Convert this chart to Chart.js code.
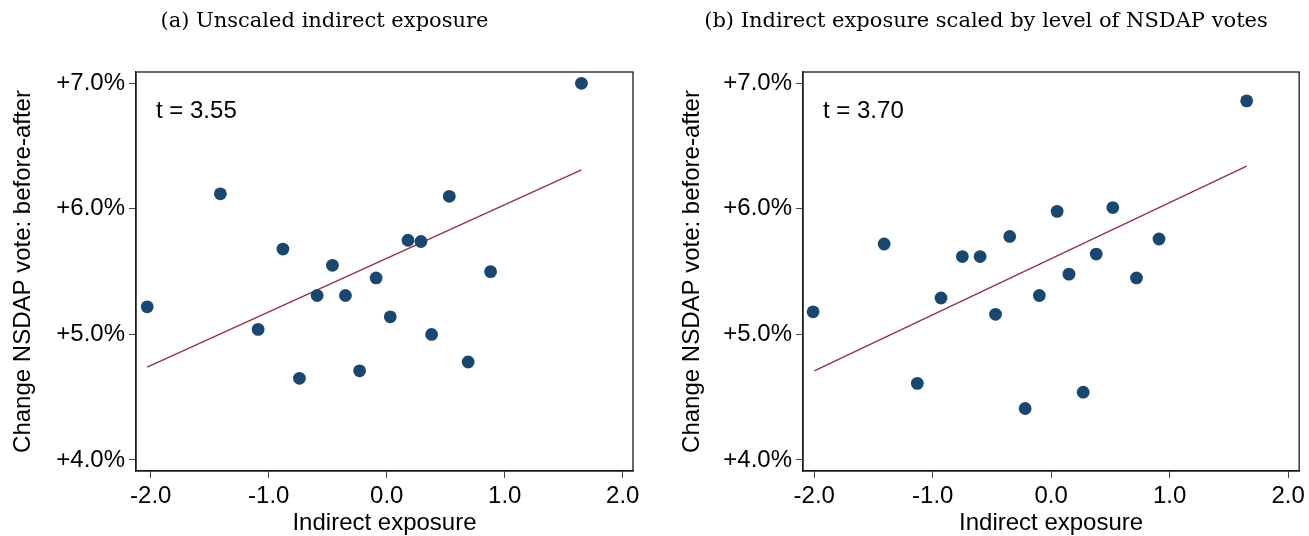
<!DOCTYPE html>
<html>
<head>
<meta charset="utf-8">
<script src="https://cdn.jsdelivr.net/npm/chart.js@4.4.1/dist/chart.umd.min.js"></script>
<style>
body { margin: 0; background: #fff; }
#wrap { position: relative; width: 1309px; height: 536px; }
canvas { position: absolute; top: 0; }
#ca { left: 0; }
#cb { left: 669px; }
</style>
</head>
<body>
<div id="wrap">
  <canvas id="ca" width="655" height="536"></canvas>
  <canvas id="cb" width="640" height="536"></canvas>
</div>
<script>
// panel titles and annotations
var titles = ['(a) Unscaled indirect exposure', '(b) Indirect exposure scaled by level of NSDAP votes'];
var tStats = ['t = 3.55', 't = 3.70'];
var xTitle = 'Indirect exposure';
var yTitle = 'Change NSDAP vote: before-after';
var xTicks = [-2, -1, 0, 1, 2];
var yTicks = [4, 5, 6, 7];

// (a) unscaled
var xA = [-2.03, -1.41, -1.09, -0.88, -0.74, -0.59, -0.46, -0.35, -0.23, -0.09, 0.03, 0.18, 0.29, 0.38, 0.53, 0.69, 0.88, 1.65];
var yA = [5.22, 6.12, 5.04, 5.68, 4.65, 5.31, 5.55, 5.31, 4.71, 5.45, 5.14, 5.75, 5.74, 5.00, 6.10, 4.78, 5.50, 7.00];
var fitXA = [-2.03, 1.65];
var fitYA = [4.74, 6.31];

// (b) scaled by NSDAP level
var xB = [-2.01, -1.41, -1.13, -0.93, -0.75, -0.60, -0.47, -0.35, -0.22, -0.10, 0.05, 0.15, 0.27, 0.38, 0.52, 0.72, 0.91, 1.65];
var yB = [5.18, 5.72, 4.61, 5.29, 5.62, 5.62, 5.16, 5.78, 4.41, 5.31, 5.98, 5.48, 4.54, 5.64, 6.01, 5.45, 5.76, 6.86];
var fitXB = [-2.00, 1.65];
var fitYB = [4.71, 6.34];

Chart.defaults.font.family = '"Liberation Sans", Arial, Helvetica, sans-serif';
Chart.defaults.color = '#000';

function pts(xs, ys) {
  var out = [];
  for (var i = 0; i < xs.length; i++) out.push({ x: xs[i], y: ys[i] });
  return out;
}

// frame, panel title and t-stat
var panelText = {
  id: 'panelText',
  beforeDatasetsDraw: function (chart) {
    var a = chart.chartArea, ctx = chart.ctx;
    ctx.save();
    ctx.strokeStyle = '#1a1a1a';
    ctx.lineWidth = 1.3;
    ctx.strokeRect(a.left, a.top, a.right - a.left, a.bottom - a.top);
    ctx.restore();
  },
  afterDraw: function (chart, args, opts) {
    var a = chart.chartArea, ctx = chart.ctx;
    ctx.save();
    ctx.fillStyle = '#000';
    ctx.font = '21px "DejaVu Serif", serif';
    ctx.textAlign = 'center';
    ctx.textBaseline = 'middle';
    ctx.fillText(opts.title, chart.width / 2 - 3, 22);
    ctx.font = '24px "Liberation Sans", Arial, sans-serif';
    ctx.textAlign = 'left';
    ctx.textBaseline = 'alphabetic';
    ctx.fillText(opts.tstat, a.left + 20, a.top + 46);
    ctx.restore();
  }
};

function makeChart(id, xs, ys, fx, fy, title, tstat, areaLeft, padRight, xMin, xMax) {
  return new Chart(document.getElementById(id), {
    data: {
      datasets: [
        {
          type: 'line',
          data: pts(fx, fy),
          borderColor: '#90353b',
          borderWidth: 1.4,
          pointRadius: 0,
          fill: false,
          order: 2
        },
        {
          type: 'scatter',
          data: pts(xs, ys),
          backgroundColor: '#1a476f',
          borderColor: '#1a476f',
          pointRadius: 6.4,
          borderWidth: 0,
          order: 1
        }
      ]
    },
    options: {
      responsive: false,
      animation: false,
      devicePixelRatio: 1,
      layout: { padding: { top: 72, right: padRight, bottom: 0, left: 0 } },
      plugins: {
        legend: { display: false },
        tooltip: { enabled: false },
        panelText: { title: title, tstat: tstat }
      },
      scales: {
        x: {
          type: 'linear',
          min: xMin,
          max: xMax,
          afterBuildTicks: function (s) { s.ticks = xTicks.map(function (v) { return { value: v }; }); },
          afterFit: function (s) { s.height = 65; },
          ticks: {
            font: { size: 24 },
            padding: 4,
            maxRotation: 0,
            callback: function (v) { return v.toFixed(1); }
          },
          grid: { drawOnChartArea: false, drawTicks: true, tickLength: 7, tickColor: '#444', tickWidth: 1 },
          border: { display: true, color: '#1a1a1a', width: 1.3 },
          title: { display: true, text: xTitle, font: { size: 24, lineHeight: 1 }, padding: { top: 0, bottom: 1 } }
        },
        y: {
          type: 'linear',
          min: 3.912,
          max: 7.09,
          afterBuildTicks: function (s) { s.ticks = yTicks.map(function (v) { return { value: v }; }); },
          afterFit: function (s) { s.width = areaLeft; },
          ticks: {
            font: { size: 24 },
            padding: 4,
            callback: function (v) { return '+' + v.toFixed(1) + '%'; }
          },
          grid: { drawOnChartArea: false, drawTicks: true, tickLength: 7, tickColor: '#444', tickWidth: 1 },
          border: { display: true, color: '#1a1a1a', width: 1.3 },
          title: { display: true, text: yTitle, font: { size: 24 }, padding: { top: 9, bottom: 0 } }
        }
      }
    },
    plugins: [panelText]
  });
}

makeChart('ca', xA, yA, fitXA, fitYA, titles[0], tStats[0], 136, 22, -2.125, 2.087);
makeChart('cb', xB, yB, fitXB, fitYB, titles[1], tStats[1], 134, 8, -2.095, 2.093);
</script>
</body>
</html>
